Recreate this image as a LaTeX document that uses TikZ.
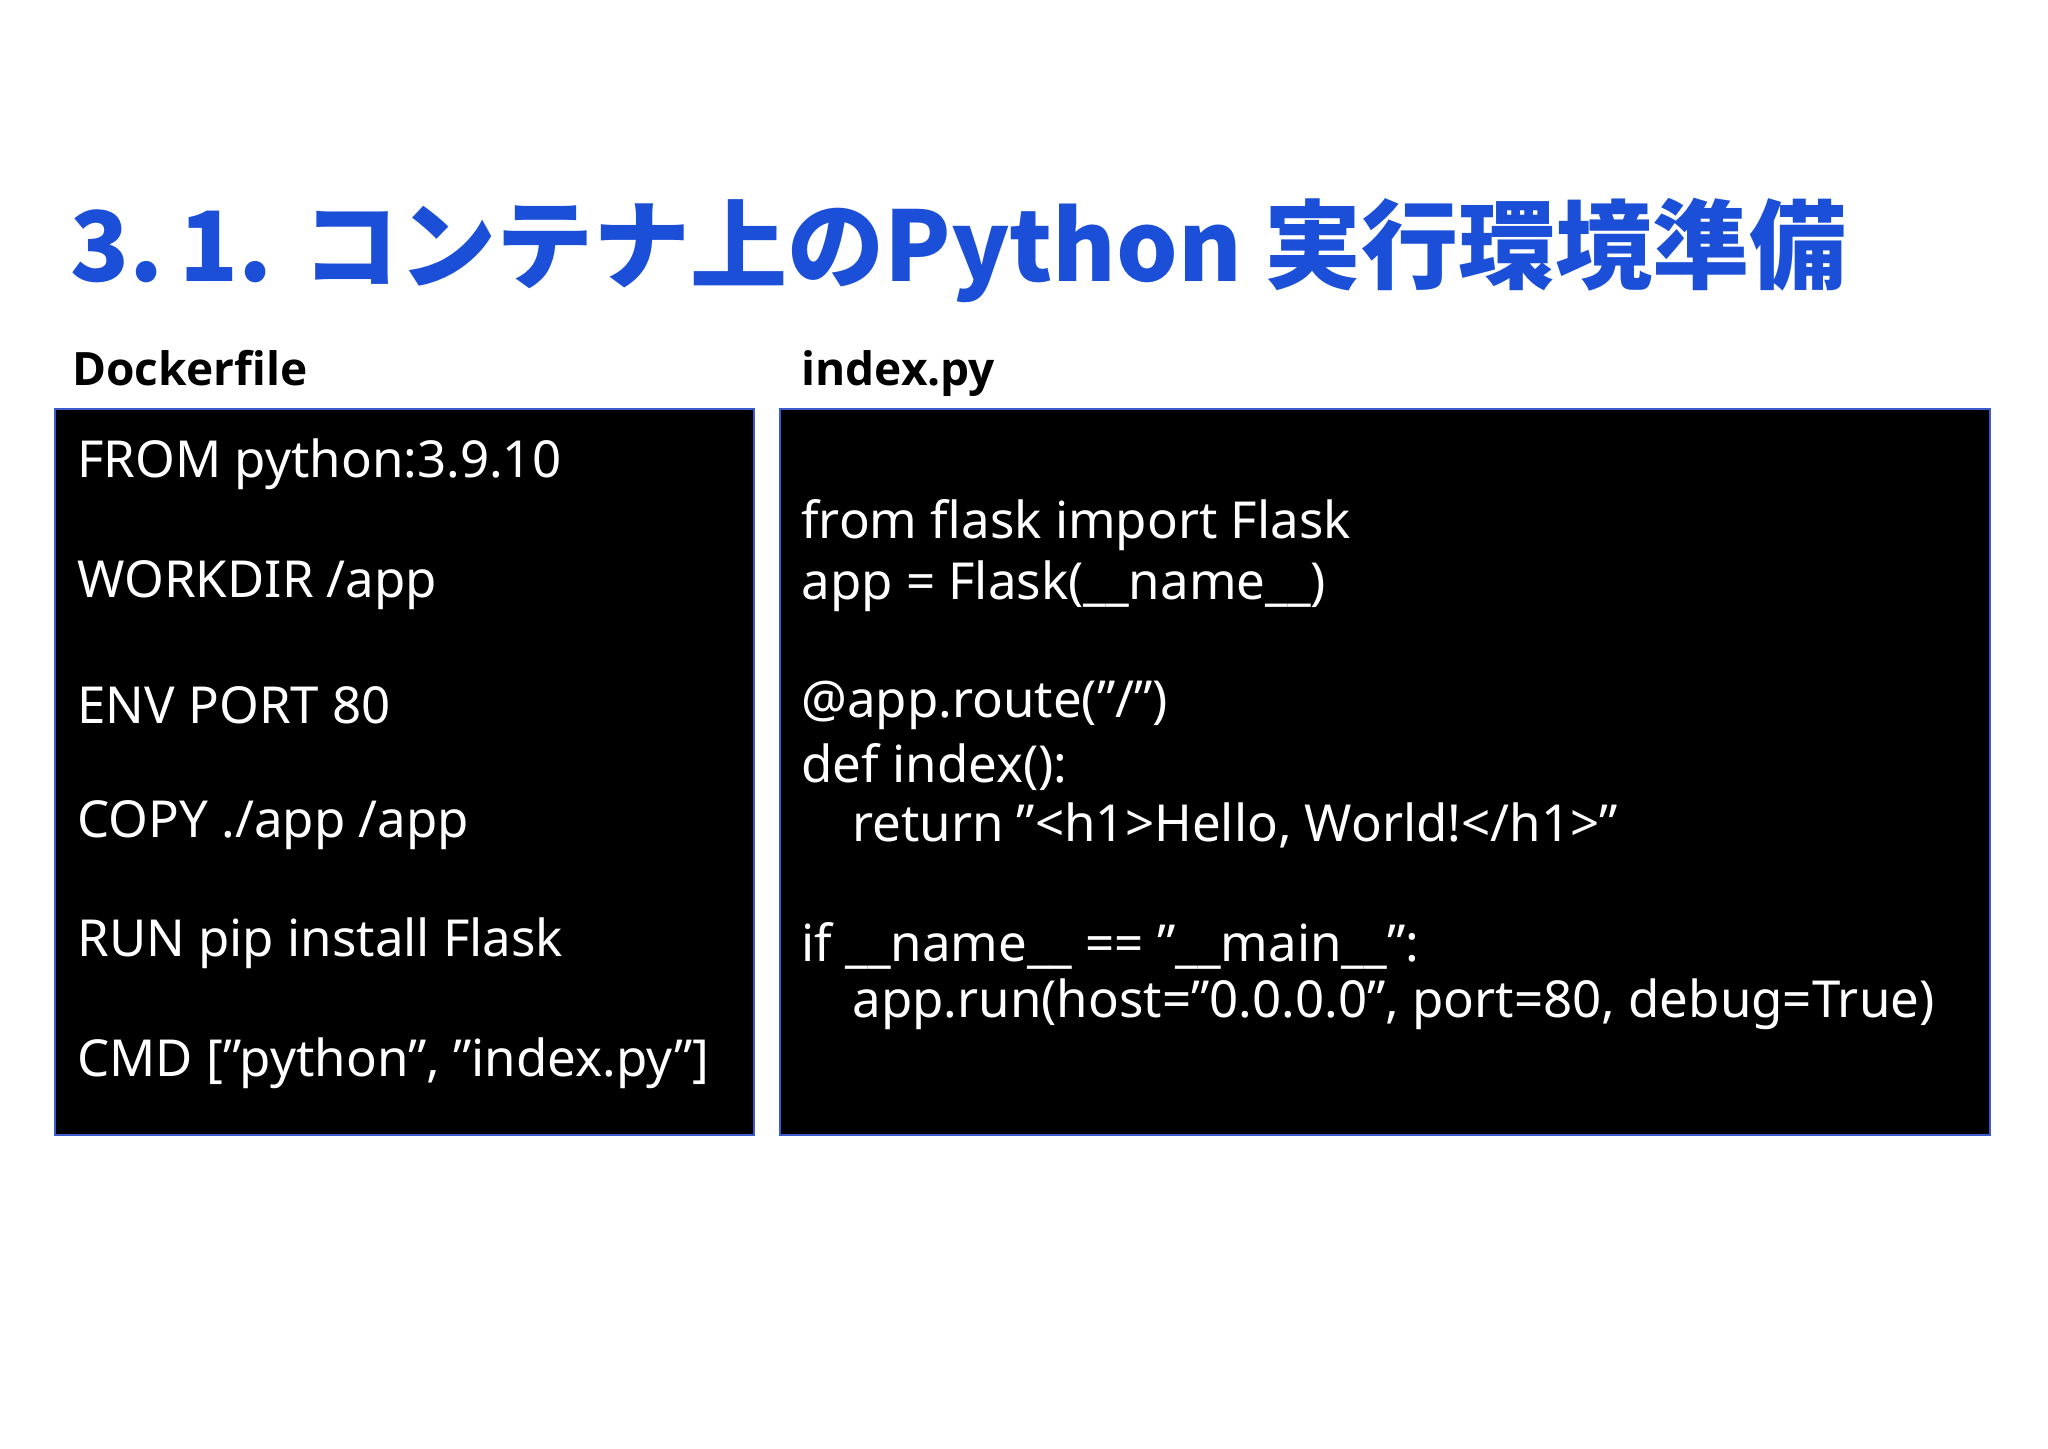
\documentclass[tikz,border=0pt]{standalone}
\usepackage{fontspec}
\setmainfont{Noto Sans}
\newfontfamily\cjk{Noto Sans CJK JP}
\newfontfamily\lblfont{Open Sans}
\newcommand\qq{\symbol{34}}
\definecolor{ttl}{HTML}{1C4FD8}
\definecolor{bd}{HTML}{3A5BD0}
\begin{document}
\begin{tikzpicture}[x=0.5pt,y=-0.5pt,
  code/.style={anchor=west,text=white,font=\fontsize{25.5}{30}\selectfont,inner sep=0},
  lbl/.style={anchor=base west,font=\lblfont\bfseries\fontsize{23}{28}\selectfont,inner sep=0},
  box/.style={draw=bd,line width=1.2pt,fill=black}]
\useasboundingbox (0,0) rectangle (2048,1448);
\node[anchor=base west,inner sep=0,text=ttl,font=\cjk\bfseries\fontsize{48.5}{54}\selectfont] (title) at (70,281) {3.\,1. コンテナ上のPython 実行環境準備};
\node[lbl] (l1) at (72,385) {Dockerfile};
\node[lbl] (l2) at (801,385) {index.py};
\draw[box] (55,409) rectangle (754,1135);
\draw[box] (780,409) rectangle (1990,1135);
\node[code] (a1) at (77,464) {FROM python:3.9.10};
\node[code] (a2) at (77,585) {WORKDIR /app};
\node[code] (a3) at (77,705) {ENV PORT 80};
\node[code] (a4) at (77,825) {COPY ./app /app};
\node[code] (a5) at (77,943) {RUN pip install Flask};
\node[code] (a6) at (77,1063) {CMD [\qq python\qq, \qq index.py\qq]};
\node[code] (b1) at (801,525) {from flask import Flask};
\node[code] (b2) at (801,586) {app = Flask(\_\_name\_\_)};
\node[code] (b3) at (801,705) {@app.route(\qq/\qq)};
\node[code] (b4) at (801,767) {def index():};
\node[code] (b5) at (852,825) {return \qq<h1>Hello, World!</h1>\qq};
\node[code] (b6) at (801,946) {if \_\_name\_\_ == \qq\_\_main\_\_\qq:};
\node[code] (b7) at (852,1004) {app.run(host=\qq 0.0.0.0\qq, port=80, debug=True)};
\end{tikzpicture}
\end{document}
